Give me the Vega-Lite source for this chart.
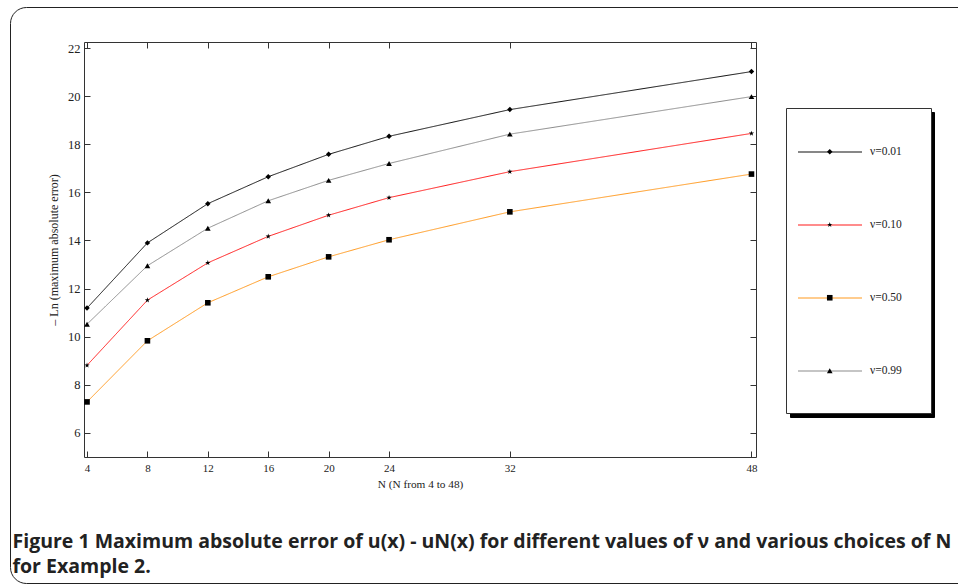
{
  "$schema": "https://vega.github.io/schema/vega-lite/v6.json",
  "autosize": {"type": "none"},
  "padding": {"left": 84, "top": 42, "right": 202, "bottom": 128},
  "width": 672,
  "height": 415,
  "background": "white",
  "config": {"view": {"stroke": null}},
  "title": {
    "text": ["Figure 1 Maximum absolute error of u(x) - uN(x) for different values of ν and various choices of N", "for Example 2."],
    "orient": "bottom",
    "anchor": "start",
    "dx": 3,
    "offset": 0,
    "dy": -51,
    "font": "Open Sans",
    "fontSize": 19.5,
    "fontWeight": "bold",
    "color": "#222222",
    "lineHeight": 25
  },
  "data": {
    "values": [
      {"N": 4, "nu": "ν=0.01", "err": 11.19},
      {"N": 8, "nu": "ν=0.01", "err": 13.90},
      {"N": 12, "nu": "ν=0.01", "err": 15.53},
      {"N": 16, "nu": "ν=0.01", "err": 16.65},
      {"N": 20, "nu": "ν=0.01", "err": 17.58},
      {"N": 24, "nu": "ν=0.01", "err": 18.33},
      {"N": 32, "nu": "ν=0.01", "err": 19.44},
      {"N": 48, "nu": "ν=0.01", "err": 21.02},
      {"N": 4, "nu": "ν=0.10", "err": 8.81},
      {"N": 8, "nu": "ν=0.10", "err": 11.52},
      {"N": 12, "nu": "ν=0.10", "err": 13.07},
      {"N": 16, "nu": "ν=0.10", "err": 14.17},
      {"N": 20, "nu": "ν=0.10", "err": 15.05},
      {"N": 24, "nu": "ν=0.10", "err": 15.78},
      {"N": 32, "nu": "ν=0.10", "err": 16.86},
      {"N": 48, "nu": "ν=0.10", "err": 18.45},
      {"N": 4, "nu": "ν=0.50", "err": 7.29},
      {"N": 8, "nu": "ν=0.50", "err": 9.83},
      {"N": 12, "nu": "ν=0.50", "err": 11.41},
      {"N": 16, "nu": "ν=0.50", "err": 12.49},
      {"N": 20, "nu": "ν=0.50", "err": 13.32},
      {"N": 24, "nu": "ν=0.50", "err": 14.03},
      {"N": 32, "nu": "ν=0.50", "err": 15.19},
      {"N": 48, "nu": "ν=0.50", "err": 16.76},
      {"N": 4, "nu": "ν=0.99", "err": 10.52},
      {"N": 8, "nu": "ν=0.99", "err": 12.95},
      {"N": 12, "nu": "ν=0.99", "err": 14.51},
      {"N": 16, "nu": "ν=0.99", "err": 15.65},
      {"N": 20, "nu": "ν=0.99", "err": 16.50},
      {"N": 24, "nu": "ν=0.99", "err": 17.20},
      {"N": 32, "nu": "ν=0.99", "err": 18.42},
      {"N": 48, "nu": "ν=0.99", "err": 19.98}
    ]
  },
  "resolve": {"axis": {"x": "independent", "y": "independent"}},
  "layer": [
    {
      "mark": {"type": "line", "strokeWidth": 1},
      "encoding": {
        "x": {
          "field": "N", "type": "quantitative",
          "scale": {"domain": [3.8, 48.3], "nice": false, "zero": false},
          "axis": {
            "orient": "bottom", "values": [4, 8, 12, 16, 20, 24, 32, 48],
            "tickSize": -6, "labelPadding": 11, "grid": false,
            "domainColor": "#333333", "tickColor": "#333333",
            "labelFont": "Liberation Serif", "labelFontSize": 11, "labelColor": "#222222",
            "labelFlush": false,
            "title": "N (N from 4 to 48)", "titleFont": "Liberation Serif", "titleFontSize": 11.3,
            "titleFontWeight": "normal", "titleColor": "#222222", "titlePadding": 5
          }
        },
        "y": {
          "field": "err", "type": "quantitative",
          "scale": {"domain": [5, 22.25], "nice": false, "zero": false},
          "axis": {
            "orient": "left", "values": [6, 8, 10, 12, 14, 16, 18, 20, 22],
            "tickSize": -6, "labelPadding": 10, "grid": false,
            "domainColor": "#333333", "tickColor": "#333333",
            "labelFont": "Liberation Serif", "labelFontSize": 12.5, "labelColor": "#222222",
            "labelFlush": false,
            "title": "–  Ln (maximum absolute error)", "titleFont": "Liberation Serif", "titleFontSize": 12,
            "titleFontWeight": "normal", "titleColor": "#222222", "titlePadding": 7
          }
        },
        "color": {
          "field": "nu", "type": "nominal",
          "scale": {"range": ["#111111", "#ff1a1a", "#ff9a1f", "#8c8c8c"]},
          "legend": {
            "orient": "none", "legendX": 702, "legendY": 66, "zindex": 2,
            "title": " ", "titleOrient": "bottom", "titleFontSize": 1, "titlePadding": 24,
            "padding": 11, "rowPadding": 34,
            "symbolType": "stroke", "symbolSize": 4096, "symbolStrokeWidth": 1.2,
            "labelFont": "Liberation Serif", "labelFontSize": 11.5, "labelColor": "#222222",
            "labelOffset": 7, "labelExpr": "datum.label + '\u2800\u2800'",
            "strokeColor": "#333333", "fillColor": "white"
          }
        },
        "strokeDash": {
          "field": "nu", "type": "nominal",
          "scale": {"domain": ["ν=0.99", "ν=0.50", "ν=0.10", "ν=0.01"], "range": [[1, 0], [1, 0], [1, 0], [1, 0]]},
          "legend": {
            "orient": "none", "legendX": 706, "legendY": 70, "zindex": 1,
            "title": " ", "titleOrient": "bottom", "titleFontSize": 1, "titlePadding": 24,
            "padding": 11, "rowPadding": 34,
            "symbolType": "stroke", "symbolSize": 4096, "symbolStrokeWidth": 1.2,
            "symbolStrokeColor": "black",
            "labelFont": "Liberation Serif", "labelFontSize": 11.5, "labelOpacity": 0,
            "labelOffset": 2, "labelExpr": "'\u2800\u2800\u2800\u2800\u2800\u2800'",
            "strokeColor": "black", "fillColor": "black"
          }
        }
      }
    },
    {
      "mark": {"type": "point", "filled": true, "opacity": 1, "color": "black"},
      "encoding": {
        "x": {"field": "N", "type": "quantitative", "axis": null},
        "y": {"field": "err", "type": "quantitative", "axis": null},
        "shape": {
          "field": "nu", "type": "nominal",
          "scale": {
            "domain": ["ν=0.01", "ν=0.10", "ν=0.50", "ν=0.99"],
            "range": ["diamond", "M0,-1L0.2245,-0.309L0.9511,-0.309L0.3633,0.118L0.5878,0.809L0,0.382L-0.5878,0.809L-0.3633,0.118L-0.9511,-0.309L-0.2245,-0.309Z", "square", "triangle-up"]
          },
          "legend": {
            "orient": "none", "legendX": 729, "legendY": 93, "zindex": 3,
            "title": null, "padding": 11, "rowPadding": 60,
            "symbolFillColor": "black", "symbolStrokeColor": "black", "symbolStrokeWidth": 0,
            "labelFont": "Liberation Serif", "labelFontSize": 11.5, "labelExpr": "'\u00a0'",
            "strokeColor": null, "fillColor": null
          }
        },
        "size": {
          "field": "nu", "type": "nominal",
          "scale": {"domain": ["ν=0.01", "ν=0.10", "ν=0.50", "ν=0.99"], "range": [30, 32, 58, 30]},
          "legend": {
            "orient": "none", "legendX": 729, "legendY": 93, "zindex": 3,
            "title": null, "padding": 11, "rowPadding": 60,
            "symbolFillColor": "black", "symbolStrokeColor": "black", "symbolStrokeWidth": 0,
            "labelFont": "Liberation Serif", "labelFontSize": 11.5, "labelExpr": "'\u00a0'",
            "strokeColor": null, "fillColor": null
          }
        }
      }
    },
    {
      "mark": {"type": "point", "filled": true, "opacity": 0},
      "encoding": {
        "x": {
          "field": "N", "type": "quantitative",
          "axis": {
            "orient": "top", "values": [4, 8, 12, 16, 20, 24, 32, 48], "labels": false, "title": null,
            "tickSize": -6, "grid": false, "domainColor": "#333333", "tickColor": "#333333"
          }
        },
        "y": {
          "field": "err", "type": "quantitative",
          "axis": {
            "orient": "right", "values": [6, 8, 10, 12, 14, 16, 18, 20, 22], "labels": false, "title": null,
            "tickSize": -6, "grid": false, "domainColor": "#333333", "tickColor": "#333333"
          }
        },
        "fill": {
          "field": "N", "type": "quantitative",
          "scale": {"range": ["white", "white"]},
          "legend": {
            "type": "gradient", "orient": "none", "direction": "vertical",
            "legendX": -74, "legendY": -35, "zindex": 0,
            "title": null, "padding": 0,
            "gradientLength": 576, "gradientThickness": 965, "gradientOpacity": 0,
            "gradientStrokeWidth": 0, "gradientStrokeColor": "white",
            "labelExpr": "''", "labelOffset": 0, "labelOpacity": 0,
            "strokeColor": "#222222", "cornerRadius": 16
          }
        }
      }
    }
  ]
}
